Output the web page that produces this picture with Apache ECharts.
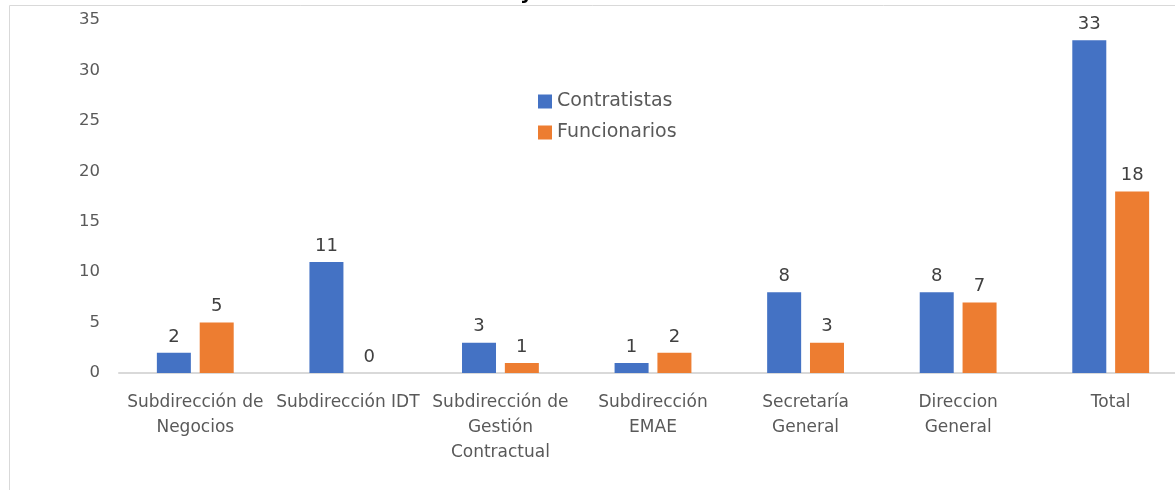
<!DOCTYPE html>
<html><head><meta charset="utf-8">
<script src="https://cdn.jsdelivr.net/npm/echarts@6/dist/echarts.min.js"></script>
<style>html,body{margin:0;padding:0;background:#fff}#c{width:1175px;height:490px}</style>
</head><body><div id="c"></div>
<script>
const categories = ['Subdirección de\nNegocios','Subdirección IDT','Subdirección de\nGestión\nContractual','Subdirección\nEMAE','Secretaría\nGeneral','Direccion\nGeneral','Total'];
const contratistas = [2, 11, 3, 1, 8, 8, 33];
const funcionarios = [5, 0, 1, 2, 3, 7, 18];
const yTicks = [0, 5, 10, 15, 20, 25, 30, 35];

const font = 'DejaVu Sans, sans-serif';
const chart = echarts.init(document.getElementById('c'), null, {renderer:'canvas'});
const lbl = {show:true, position:'top', distance:7, color:'#404040', fontSize:18, fontFamily:font};
chart.setOption({
  animation:false,
  graphic:[
    {type:'line', shape:{x1:9.5,y1:5.5,x2:1175,y2:5.5}, style:{stroke:'#d9d9d9', lineWidth:1}, silent:true},
    {type:'line', shape:{x1:9.5,y1:5.5,x2:9.5,y2:490}, style:{stroke:'#d9d9d9', lineWidth:1}, silent:true},
    {type:'text', x:520, y:-16, style:{text:'y', fontSize:20, fontFamily:font, fill:'#000', fontWeight:'bold'}}
  ],
  legend:{orient:'vertical', left:533, top:87, itemWidth:14, itemHeight:14, itemGap:12,
    icon:'rect', textStyle:{fontSize:19, color:'#595959', fontFamily:font},
    data:['Contratistas','Funcionarios']},
  grid:{left:119, width:1068, top:20, bottom:117, containLabel:false, outerBoundsMode:'none'},
  xAxis:{type:'category', data:categories,
    axisLine:{lineStyle:{color:'#d9d9d9', width:2}}, axisTick:{show:false},
    axisLabel:{color:'#595959', fontSize:17, fontFamily:font, lineHeight:25, margin:17, interval:0}},
  yAxis:{type:'value', min:0, max:35, interval:5,
    axisLine:{show:false}, axisTick:{show:false}, splitLine:{show:false},
    axisLabel:{color:'#595959', fontSize:16.5, fontFamily:font, margin:19}},
  series:[
    {name:'Contratistas', type:'bar', data:contratistas, barWidth:34, barGap:'26%', itemStyle:{color:'#4472c4'}, label:lbl},
    {name:'Funcionarios', type:'bar', data:funcionarios, barWidth:34, itemStyle:{color:'#ed7d31'}, label:lbl}
  ]
});
</script></body></html>
